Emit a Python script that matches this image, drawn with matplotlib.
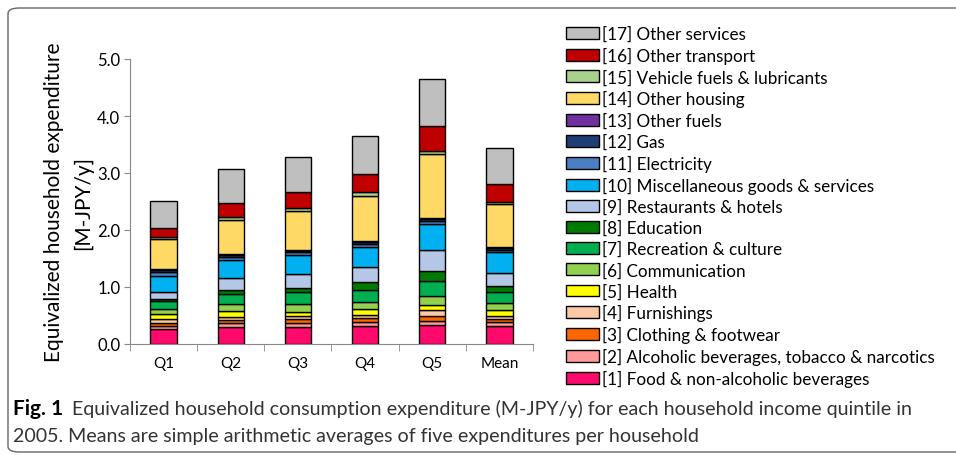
import numpy as np
import matplotlib.pyplot as plt
from matplotlib.patches import FancyBboxPatch

plt.rcParams['font.family'] = ['Lato', 'DejaVu Sans']

quintiles = ['Q1', 'Q2', 'Q3', 'Q4', 'Q5', 'Mean']

names = ['[1] Food & non-alcoholic beverages',
         '[2] Alcoholic beverages, tobacco & narcotics',
         '[3] Clothing & footwear',
         '[4] Furnishings',
         '[5] Health',
         '[6] Communication',
         '[7] Recreation & culture',
         '[8] Education',
         '[9] Restaurants & hotels',
         '[10] Miscellaneous goods & services',
         '[11] Electricity',
         '[12] Gas',
         '[13] Other fuels',
         '[14] Other housing',
         '[15] Vehicle fuels & lubricants',
         '[16] Other transport',
         '[17] Other services']

colors = ['#ff0a6c', '#ff9a9a', '#ff6600', '#fcc9a6', '#ffff00', '#92d050',
          '#00b050', '#007a00', '#b4c7e7', '#00b0f0', '#4a7fc1', '#1f3e74',
          '#7030a0', '#ffd966', '#a9d18e', '#c00000', '#bfbfbf']

# M-JPY/y per category, order Q1..Q5, Mean
food      = [0.26, 0.30, 0.30, 0.31, 0.34, 0.31]
alcohol   = [0.06, 0.06, 0.07, 0.07, 0.07, 0.07]
clothing  = [0.05, 0.06, 0.06, 0.08, 0.09, 0.06]
furnish   = [0.06, 0.06, 0.06, 0.05, 0.10, 0.06]
health    = [0.10, 0.10, 0.08, 0.10, 0.09, 0.10]
communic  = [0.08, 0.12, 0.14, 0.13, 0.15, 0.12]
recreat   = [0.14, 0.18, 0.20, 0.21, 0.27, 0.20]
education = [0.04, 0.07, 0.08, 0.13, 0.17, 0.09]
restaur   = [0.13, 0.20, 0.23, 0.27, 0.37, 0.24]
misc      = [0.28, 0.33, 0.34, 0.36, 0.46, 0.36]
electric  = [0.06, 0.04, 0.05, 0.04, 0.05, 0.04]
gas       = [0.03, 0.04, 0.02, 0.04, 0.03, 0.04]
oth_fuels = [0.02, 0.02, 0.02, 0.02, 0.02, 0.02]
housing   = [0.53, 0.60, 0.68, 0.79, 1.12, 0.75]
veh_fuels = [0.04, 0.05, 0.05, 0.06, 0.06, 0.04]
transport = [0.15, 0.24, 0.28, 0.32, 0.44, 0.31]
services  = [0.48, 0.60, 0.62, 0.67, 0.82, 0.62]

series = [food, alcohol, clothing, furnish, health, communic, recreat, education,
          restaur, misc, electric, gas, oth_fuels, housing, veh_fuels, transport,
          services]

fig = plt.figure(figsize=(9.56, 4.56), dpi=100)

# rounded frame of the figure panel
frame = FancyBboxPatch((8/956, 3/456), 960/956, 444/456,
                       boxstyle='round,pad=0,rounding_size=0.012',
                       transform=fig.transFigure, fill=False,
                       edgecolor='#666666', linewidth=1.0, zorder=0)
fig.patches.append(frame)

ax = fig.add_axes([130/956, (456-345)/456, (533-130)/956, (345-60)/456])

x = np.arange(len(quintiles))
bottom = np.zeros(len(quintiles))
handles = []
for vals, name, c in zip(series, names, colors):
    b = ax.bar(x, vals, width=0.39, bottom=bottom, color=c, edgecolor='black',
               linewidth=1.0, label=name, zorder=3)
    handles.append(b)
    bottom += np.array(vals)

ax.set_xlim(-0.5, len(quintiles) - 0.5)
ax.set_ylim(0, 5.0)
ax.set_yticks(np.arange(0, 5.1, 1.0))
ax.set_yticklabels(['%.1f' % v for v in np.arange(0, 5.1, 1.0)], fontsize=12)
ax.set_xticks(x)
ax.set_xticklabels(quintiles, fontsize=11)
ax.set_xticks(np.arange(-0.5, len(quintiles), 1.0), minor=True)
ax.tick_params(axis='x', which='major', length=0, pad=9)
ax.tick_params(axis='x', which='minor', length=5, color='#888888', direction='out')
ax.tick_params(axis='y', length=4, color='#888888', direction='out', pad=3)

for s in ['top', 'right']:
    ax.spines[s].set_visible(False)
for s in ['left', 'bottom']:
    ax.spines[s].set_color('#888888')

ax.set_ylabel('Equivalized household expenditure\n[M-JPY/y]', fontsize=15,
              linespacing=1.55)
ax.yaxis.set_label_coords(-37/403, 0.5)

fig.legend(handles[::-1], names[::-1], loc='upper left',
           bbox_to_anchor=(566/956, 1 - 27/456), frameon=False, fontsize=12.3,
           handlelength=1.93, handleheight=0.7, handletextpad=0.2,
           labelspacing=0.29, borderaxespad=0, borderpad=0)

cap_y1 = 1 - 409/456
cap_y2 = 1 - 437/456
fig.text(13/956, cap_y1, 'Fig. 1', fontsize=15, fontweight='bold', va='center')
fig.text(72/956, cap_y1,
         'Equivalized household consumption expenditure (M-JPY/y) for each household income quintile in',
         fontsize=14.1, va='center', color='#333333')
fig.text(13/956, cap_y2,
         '2005. Means are simple arithmetic averages of five expenditures per household',
         fontsize=14.1, va='center', color='#333333')

fig.savefig('out.png', dpi=100)
